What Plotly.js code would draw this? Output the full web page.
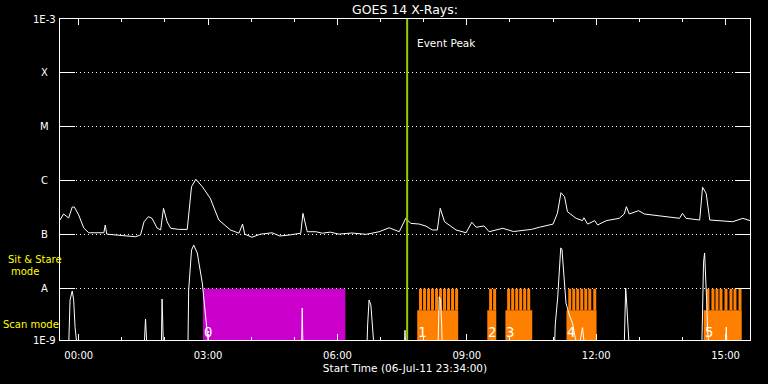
<!DOCTYPE html>
<html><head><meta charset="utf-8">
<script src="https://cdn.plot.ly/plotly-3.0.1.min.js"></script>
<style>html,body{margin:0;padding:0;background:#000;} #chart{width:768px;height:384px;}</style>
</head><body><div id="chart"></div>
<script>
// ---- GOES long channel (1-8 A), W/m^2 ----
const longTimes = ['23:34','23:39','23:46','23:51','23:54','00:00','00:07','00:14','00:35','00:37','00:39','00:56','01:19','01:26','01:31','01:37','01:42','01:49','01:54','01:58','02:03','02:08','02:19','02:31','02:37','02:43','02:52','03:03','03:15','03:31','03:43','03:48','03:51','04:01','04:12','04:29','04:40','04:53','05:09','05:12','05:18','05:30','05:39','05:50','06:02','06:20','06:40','06:58','07:12','07:26','07:35','07:42','07:54','08:03','08:12','08:19','08:23','08:29','08:45','08:59','09:07','09:13','09:24','09:31','09:40','09:50','10:05','10:18','10:30','10:41','11:00','11:06','11:11','11:16','11:20','11:32','11:41','11:43','11:48','11:58','12:02','12:14','12:32','12:39','12:42','12:46','12:59','13:07','13:33','13:56','14:00','14:05','14:24','14:28','14:33','14:38','15:10','15:24','15:34'];
const longFlux = [1.88e-7,2.43e-7,2.05e-7,3.27e-7,3.27e-7,2.33e-7,1.34e-7,1.09e-7,1.09e-7,1.52e-7,1.03e-7,9.9e-8,9.2e-8,9.9e-8,1.75e-7,2.17e-7,2.02e-7,1.34e-7,1.23e-7,3.1e-7,1.75e-7,1.32e-7,1.26e-7,1.26e-7,7.8e-7,1.07e-6,7.8e-7,4.75e-7,1.88e-7,1.23e-7,1.07e-7,1.58e-7,1.03e-7,9.0e-8,1.02e-7,1.09e-7,9.5e-8,9.9e-8,1.07e-7,2.5e-7,1.14e-7,1.14e-7,1.07e-7,1.12e-7,1.03e-7,1.08e-7,1.02e-7,1.14e-7,1.35e-7,1.14e-7,2.02e-7,1.63e-7,1.58e-7,1.45e-7,1.23e-7,1.23e-7,3.1e-7,1.75e-7,1.23e-7,1.09e-7,1.71e-7,1.38e-7,1.46e-7,1.14e-7,1.22e-7,1.32e-7,1.15e-7,1.19e-7,1.26e-7,1.38e-7,1.58e-7,2.5e-7,6.03e-7,5.08e-7,2.68e-7,2.02e-7,1.83e-7,2.07e-7,1.58e-7,1.83e-7,1.52e-7,1.83e-7,2.02e-7,2.43e-7,3.32e-7,2.43e-7,2.8e-7,2.43e-7,2.17e-7,2.02e-7,2.5e-7,2.02e-7,1.88e-7,7.6e-7,5.88e-7,1.88e-7,1.75e-7,2.02e-7,1.83e-7];

// ---- GOES short channel (0.5-4 A), W/m^2 (8e-10 = below plot floor) ----
const shortTimes = ['23:34','23:46','23:48','23:51','23:53','23:55','23:58','01:31','01:33','01:35','01:55','01:56','01:58','02:32','02:33','02:37','02:40','02:45','02:52','02:56:30','02:59','03:01','05:10','05:11','05:12','06:41','06:42','06:44','06:46:30','06:48:40','06:51','07:33','07:34','07:35','08:20','08:21:30','08:23:30','08:25','08:26','11:02','11:03','11:06:30','11:09','11:10:40','11:12:20','11:13:40','11:15:50','11:18','11:22:40','11:27','11:31','11:36','11:41','11:44','12:39','12:41','12:42','12:43:30','12:46','14:27','14:28','14:29:20','14:30:50','14:32:10','14:33:40','14:35','14:37','15:00','15:01','15:02','15:34'];
const shortFlux = [8e-10,8e-10,6.2e-9,9.1e-9,6.2e-9,1.9e-9,8e-10,8e-10,2.75e-9,8e-10,8e-10,6.45e-9,8e-10,8e-10,9.5e-9,5.2e-8,6.46e-8,4.6e-8,1.27e-8,3.55e-9,1.72e-9,8e-10,8e-10,4.4e-9,8e-10,8e-10,2.13e-9,6.2e-9,5.0e-9,1.6e-9,8e-10,8e-10,1.7e-9,8e-10,8e-10,7.1e-9,6.2e-9,2.1e-9,8e-10,8e-10,2.13e-9,7.0e-9,1.96e-8,5.7e-8,5.45e-8,3.1e-8,1.72e-8,5.4e-9,3.26e-9,2.3e-9,1.2e-9,8e-10,1.9e-9,8e-10,8e-10,1.03e-8,6.7e-9,2.3e-9,8e-10,8e-10,6.2e-9,3.1e-8,4.6e-8,2.2e-8,6.2e-9,1.7e-9,8e-10,8e-10,1.95e-9,8e-10,8e-10];

// ---- observing modes ----
const sitStareStart = ['02:53'];
const sitStareEnd   = ['06:11'];
const scanStart = ['07:51','09:28:30','09:53:40','11:18:40','14:29:30'];
const scanEnd   = ['08:48','09:41','10:31','12:00:30','15:22:30'];
const rasterTimes = ['07:55:36','08:01:12','08:06:48','08:12:18','08:17:54','08:23:30','08:29:00','08:34:36','08:40:12','08:45:48',
  '09:33:06','09:38:42',
  '09:58:12','10:03:48','10:09:24','10:14:54','10:20:30','10:26:06',
  '11:23:12','11:28:48','11:34:18','11:39:54','11:45:30','11:51:06','11:58:00',
  '14:35:30','14:42:24','14:48:00','14:53:36','15:00:36','15:07:30','15:13:06','15:20:06'];
const obsLabels = ['0','1','2','3','4','5'];
const obsLabelTimes = ['02:53','07:51','09:28:30','09:53:40','11:18:40','14:29:30'];
const eventPeak = '07:37';

const levelFloor = 8e-10, levelScan = 4.0e-9, levelSit = 1e-8, levelTop = 1e-3;
const yTickVals = [1e-3,1e-4,1e-5,1e-6,1e-7,1e-8,Math.pow(10,-8.95)];
const yTickText = ['1E-3','X','M','C','B','A','1E-9'];

function toDate(s){
  const h = parseInt(s.slice(0,2),10);
  const day = h >= 20 ? '2011-07-06 ' : '2011-07-07 ';
  return day + (s.length === 5 ? s + ':00' : s);
}
function boxes(starts, ends, lo, hi){
  const x=[], y=[];
  for (let i=0;i<starts.length;i++){
    const a=toDate(starts[i]), b=toDate(ends[i]);
    x.push(a,a,b,b,a,null); y.push(lo,hi,hi,lo,lo,null);
  }
  return {x,y};
}
const sit = boxes(sitStareStart, sitStareEnd, levelFloor, levelSit);
const scan = boxes(scanStart, scanEnd, levelFloor, levelScan);
const rx=[], ry=[];
rasterTimes.forEach(t=>{ const d=toDate(t); rx.push(d,d,null); ry.push(levelScan,levelSit,null); });

const traces = [
  {x:sit.x, y:sit.y, type:'scatter', mode:'lines', fill:'toself', fillcolor:'#CC00CC', line:{width:0,color:'#CC00CC'}, hoverinfo:'skip'},
  {x:scan.x, y:scan.y, type:'scatter', mode:'lines', fill:'toself', fillcolor:'#FF8000', line:{width:0,color:'#FF8000'}, hoverinfo:'skip'},
  {x:rx, y:ry, type:'scatter', mode:'lines', line:{width:3,color:'#FF8000'}, hoverinfo:'skip'},
  {x:longTimes.map(toDate), y:longFlux, type:'scatter', mode:'lines', line:{width:1,color:'#FFFFFF'}},
  {x:shortTimes.map(toDate), y:shortFlux, type:'scatter', mode:'lines', line:{width:1,color:'#FFFFFF'}},
  {x:[toDate(eventPeak),toDate(eventPeak)], y:[levelFloor, levelTop], type:'scatter', mode:'lines', line:{width:2,color:'#99CC00'}}
];

const annotations = [];
yTickVals.forEach((v,i)=>annotations.push({xref:'paper', yref:'y', x:-15.5/690, y:Math.log10(v), text:yTickText[i], showarrow:false, xanchor:'center', yanchor:'middle', font:{size:10,color:'#fff'}}));
annotations.push({xref:'paper', yref:'paper', x:(34.5-60)/690, y:(340-259)/321, text:'Sit & Stare', showarrow:false, xanchor:'center', yanchor:'middle', font:{size:10,color:'#FFFF00'}});
annotations.push({xref:'paper', yref:'paper', x:(24.5-60)/690, y:(340-271)/321, text:'mode', showarrow:false, xanchor:'center', yanchor:'middle', font:{size:10,color:'#FFFF00'}});
annotations.push({xref:'paper', yref:'paper', x:(1-60)/690, y:(340-324)/321, text:'Scan mode', showarrow:false, xanchor:'left', yanchor:'middle', font:{size:10,color:'#FFFF00'}});
annotations.push({xref:'x', yref:'paper', x:toDate(eventPeak), y:(340-43)/321, text:'Event Peak', showarrow:false, xanchor:'left', yanchor:'middle', xshift:8, font:{size:10.5,color:'#fff'}});
obsLabels.forEach((t,i)=>annotations.push({xref:'x', yref:'paper', x:toDate(obsLabelTimes[i]), y:(340-332)/321, text:t, showarrow:false, xanchor:'left', yanchor:'middle', xshift:-1, font:{size:14,color:'#fff', family:'DejaVu Sans Mono, monospace'}}));

const layout = {
  width:768, height:384,
  paper_bgcolor:'#000', plot_bgcolor:'#000',
  margin:{l:60, r:18, t:19, b:44, pad:0},
  showlegend:false,
  font:{family:'DejaVu Sans, sans-serif', color:'#fff', size:10},
  title:{text:'GOES 14 X-Rays:', font:{size:12.5,color:'#fff'}, x:0.5, xref:'paper', xanchor:'center', y:1-10/384, yref:'container', yanchor:'middle'},
  xaxis:{type:'date', range:[toDate('23:34'), toDate('15:34')], showgrid:false, zeroline:false,
    showline:true, linecolor:'#fff', linewidth:1, mirror:'ticks',
    ticks:'inside', ticklen:6, tickcolor:'#fff', tickwidth:1, ticklabelstandoff:6,
    tick0:'2011-07-07 00:00', dtick:3*3600000, tickformat:'%H:%M', tickfont:{size:10,color:'#fff'},
    minor:{dtick:3600000, ticks:'inside', ticklen:3, tickcolor:'#fff', showgrid:false},
    title:{text:'Start Time (06-Jul-11 23:34:00)', font:{size:10.5,color:'#fff'}, standoff:4},
    fixedrange:true},
  yaxis:{type:'log', range:[-8.95,-3], tickmode:'array', tickvals:yTickVals, ticktext:yTickText, showticklabels:false,
    ticks:'inside', ticklen:15, tickcolor:'#fff', tickwidth:1,
    showline:true, linecolor:'#fff', linewidth:1, mirror:'ticks',
    showgrid:true, gridcolor:'#fff', gridwidth:1, griddash:'1px,3px', zeroline:false, fixedrange:true},
  annotations: annotations
};
Plotly.newPlot('chart', traces, layout, {staticPlot:true, displayModeBar:false});
</script>
</body></html>
